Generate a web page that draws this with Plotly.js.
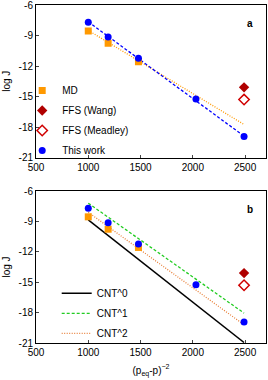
<!DOCTYPE html>
<html><head><meta charset="utf-8">
<script src="https://cdn.plot.ly/plotly-3.0.1.min.js"></script>
<style>html,body{margin:0;padding:0;background:#fff;}#chart{width:268px;height:380px;}</style>
</head><body><div id="chart"></div>
<script>
// Data points
const workX = [1000, 1190, 1480, 2030, 2490];
const workY = [-7.7, -9.14, -11.24, -15.24, -18.94];
const mdX = [1000, 1190, 1480];
const mdY = [-8.55, -9.77, -11.57];
const wangX = [2490];
const wangY = [-14.1];
const meadleyX = [2490];
const meadleyY = [-15.3];
// Fit lines (panel a)
const fitX = [1000, 2490];
const fitWorkY = [-7.65, -18.9];
const fitMdY = [-8.5, -17.75];
// CNT predictions (panel b)
const cntX = [1000, 2490];
const cnt0Y = [-8.85, -20.95];
const cnt1Y = [-7.2, -18.05];
const cnt2Y = [-8.1, -19.2];
// tick labels
const xTicks = [500, 1000, 1500, 2000, 2500];
const yTicks = [-6, -9, -12, -15, -18, -21];

const cOrange = '#ff9900', cBlue = '#0000ff', cWang = '#b00000', cMead = '#d00000';
const font = {family: 'Arial, "Liberation Sans", sans-serif', size: 10, color: '#000'};

let gid = 0;
function pts(x, y, name, marker, xa, ya, leg) {
  return {x, y, name, type: 'scatter', mode: 'markers', marker, xaxis: xa, yaxis: ya,
    showlegend: !!leg, legend: leg || 'legend', legendgroup: 'g' + (gid++)};
}
function line(x, y, name, lineStyle, xa, ya, leg) {
  return {x, y, name, type: 'scatter', mode: 'lines', line: lineStyle, xaxis: xa, yaxis: ya,
    showlegend: !!leg, legend: leg || 'legend', legendgroup: 'g' + (gid++)};
}

const mdM = {symbol: 'square', size: 7, color: cOrange};
const wangM = {symbol: 'diamond', size: 8, color: cWang};
const meadM = {symbol: 'diamond-open', size: 8, color: cMead, line: {width: 1.5, color: cMead}};
const workM = {symbol: 'circle', size: 7, color: cBlue};

const traces = [
  line(fitX, fitMdY, 'MD fit', {color: cOrange, width: 1.3, dash: '1px,1.5px'}, 'x', 'y'),
  line(fitX, fitWorkY, 'fit', {color: cBlue, width: 1.3, dash: '3px,2px'}, 'x', 'y'),
  pts(mdX, mdY, 'MD', mdM, 'x', 'y', 'legend'),
  pts(wangX, wangY, 'FFS (Wang)', wangM, 'x', 'y', 'legend'),
  pts(meadleyX, meadleyY, 'FFS (Meadley)', meadM, 'x', 'y', 'legend'),
  pts(workX, workY, 'This work', workM, 'x', 'y', 'legend'),

  line(cntX, cnt0Y, 'CNT^0', {color: '#000', width: 1.5}, 'x2', 'y2', 'legend2'),
  line(cntX, cnt1Y, 'CNT^1', {color: '#22cc22', width: 1.3, dash: '3px,2px'}, 'x2', 'y2', 'legend2'),
  line(cntX, cnt2Y, 'CNT^2', {color: '#e8803a', width: 1.3, dash: '1px,1.5px'}, 'x2', 'y2', 'legend2'),
  pts(mdX, mdY, 'MD', mdM, 'x2', 'y2'),
  pts(wangX, wangY, 'FFS (Wang)', wangM, 'x2', 'y2'),
  pts(meadleyX, meadleyY, 'FFS (Meadley)', meadM, 'x2', 'y2'),
  pts(workX, workY, 'This work', workM, 'x2', 'y2'),
];

const xBase = {range: [500, 2700], tickvals: xTicks, ticktext: xTicks.map(String), ticks: 'inside', ticklen: 3,
  showline: true, mirror: true, linecolor: '#000', linewidth: 1, showgrid: false, zeroline: false,
  tickfont: font, ticklabeloverflow: 'allow'};
const yBase = {range: [-21, -6], tickvals: yTicks, ticktext: yTicks.map(v => String(v)), ticks: 'inside', ticklen: 3,
  showline: true, mirror: true, linecolor: '#000', linewidth: 1, showgrid: false, zeroline: false,
  tickfont: font, ticklabeloverflow: 'allow', title: {text: 'log J', font: font, standoff: 6}};

const layout = {
  width: 268, height: 380,
  margin: {l: 36, r: 2, t: 5, b: 37},
  paper_bgcolor: '#fff', plot_bgcolor: '#fff',
  font: font,
  showlegend: true,
  xaxis: Object.assign({}, xBase, {domain: [0, 1], anchor: 'y'}),
  yaxis: Object.assign({}, yBase, {domain: [0.5488, 1], anchor: 'x'}),
  xaxis2: Object.assign({}, xBase, {domain: [0, 1], anchor: 'y2',
    title: {text: '(p<sub>eq</sub>-p)<sup>\u22122</sup>', font: font, standoff: 9}}),
  yaxis2: Object.assign({}, yBase, {domain: [0, 0.4497], anchor: 'x2'}),
  legend: {x: -0.06, y: 0.79, xanchor: 'left', yanchor: 'top', bgcolor: 'rgba(0,0,0,0)',
    font: font, itemsizing: 'trace', tracegroupgap: 1},
  legend2: {x: 0.09, y: 0.19, xanchor: 'left', yanchor: 'top', bgcolor: 'rgba(0,0,0,0)',
    font: font, tracegroupgap: 1},
  annotations: [
    {text: '<b>a</b>', xref: 'x domain', yref: 'y domain', x: 0.952, y: 0.928, showarrow: false, font: font},
    {text: '<b>b</b>', xref: 'x2 domain', yref: 'y2 domain', x: 0.952, y: 0.928, showarrow: false, font: font},
  ],
};

Plotly.newPlot('chart', traces, layout, {displayModeBar: false, staticPlot: true});
</script></body></html>
